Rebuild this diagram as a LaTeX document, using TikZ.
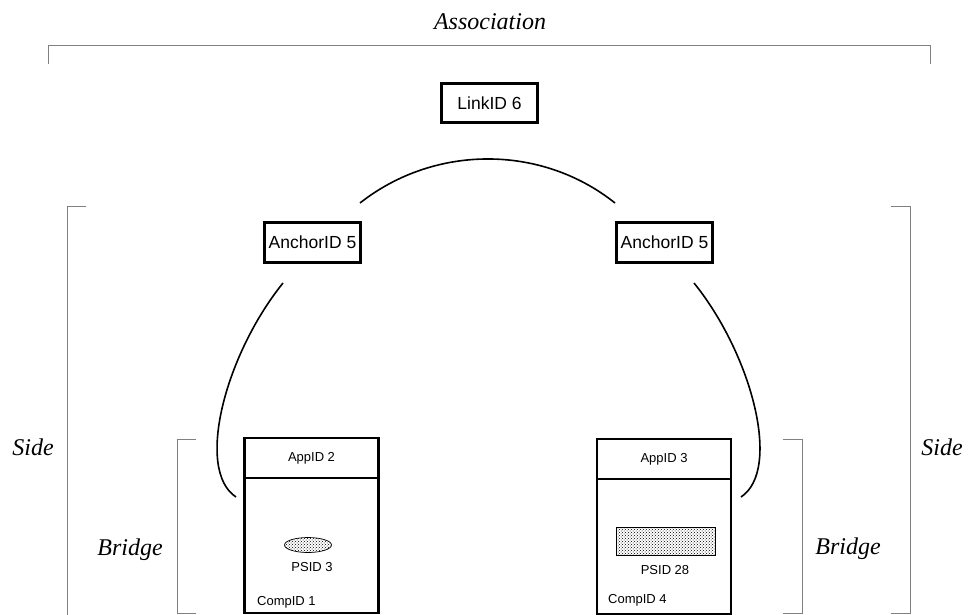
\documentclass[tikz,border=0pt]{standalone}
\usepackage{fontspec}
\setmainfont{Liberation Serif}
\setsansfont{Liberation Sans}
\usetikzlibrary{patterns,shapes.geometric}

\tikzset{
	idbox/.style={draw,line width=3pt,fill=white,inner sep=0pt,minimum width=96pt,minimum height=39pt,font=\sffamily\fontsize{17.5}{20}\selectfont},
	appbox/.style={draw,line width=2.5pt,outer sep=0pt,inner sep=0pt,minimum width=134pt,minimum height=40pt,font=\sffamily\fontsize{13}{15}\selectfont},
	compbox/.style={draw,line width=2.5pt,outer sep=0pt,inner sep=0pt,minimum width=134pt,minimum height=135pt,anchor=north},
	smalltext/.style={inner sep=0pt,font=\sffamily\fontsize{13}{15}\selectfont},
	role/.style={inner sep=0pt,font=\itshape\fontsize{24}{28}\selectfont},
	bracket/.style={draw=gray,line width=1pt},
	link/.style={line width=1.6pt},
	stipple/.style={draw,line width=0.7pt,pattern=crosshatch dots,pattern color=black}
}

\begin{document}
\begin{tikzpicture}[x=1pt,y=-1pt]
	\useasboundingbox (0,0) rectangle (971,615);

	% brackets
	\coordinate (AssocMin) at (48,64);
	\coordinate (AssocMax) at (930,64);
	\draw [bracket] (AssocMin) -- ++(0,-18) -| (AssocMax);
	\draw [bracket] (86,206) -- (67,206) -- (67,615);
	\draw [bracket] (891,206) -- (910,206) -- (910,613) -- (891,613);
	\draw [bracket] (196,439) -- (177,439) -- (177,613) -- (196,613);
	\draw [bracket] (783,439) -- (802,439) -- (802,613) -- (783,613);

	\node[role] (AssocLabel) at (490,22) {Association};
	\node[role] (SideLeft) at (33,447) {Side};
	\node[role] (SideRight) at (942,447) {Side};
	\node[role] (BridgeLeft) at (130,550) {Bridge};
	\node[role] (BridgeRight) at (848,549) {Bridge};

	% id boxes
	\node[idbox] (LinkID) at (489.5,103.5) {LinkID 6};
	\node[idbox,minimum height=40pt] (AnchorLeft) at (312.5,242) {AnchorID 5};
	\node[idbox,minimum height=40pt] (AnchorRight) at (664.5,242) {AnchorID 5};

	\coordinate (ArcLeft) at (360,203);
	\coordinate (ArcRight) at (615,203);
	\draw[link] (ArcLeft) .. controls (434.6,144.3) and (541.4,144.3) .. (ArcRight);

	\coordinate (CurveLeftTop) at (283,283);
	\coordinate (CurveLeftEnd) at (236,497);
	\coordinate (CurveRightTop) at (694,283);
	\coordinate (CurveRightEnd) at (741,497);
	\draw[link] (CurveLeftTop) .. controls (225,355) and (195,470) .. (CurveLeftEnd);
	\draw[link] (CurveRightTop) .. controls (752,355) and (782,470) .. (CurveRightEnd);

	% components
	\node[appbox] (AppLeft) at (311.5,458) {AppID 2};
	\node[compbox] (CompLeft) at (AppLeft.south) {};
	\node[appbox] (AppRight) at (664,459) {AppID 3};
	\node[compbox] (CompRight) at (AppRight.south) {};

	\node[ellipse,stipple,minimum width=47pt,minimum height=15pt] (PsLeft) at (308,545) {};
	\node[smalltext] (PsLeftText) at (312,567) {PSID 3};
	\node[smalltext,anchor=west] (CompLeftText) at (257,602) {CompID 1};

	\node[rectangle,stipple,minimum width=99pt,minimum height=28pt] (PsRight) at (665.5,541) {};
	\node[smalltext] (PsRightText) at (665,570) {PSID 28};
	\node[smalltext,anchor=west] (CompRightText) at (608,600) {CompID 4};
\end{tikzpicture}
\end{document}
